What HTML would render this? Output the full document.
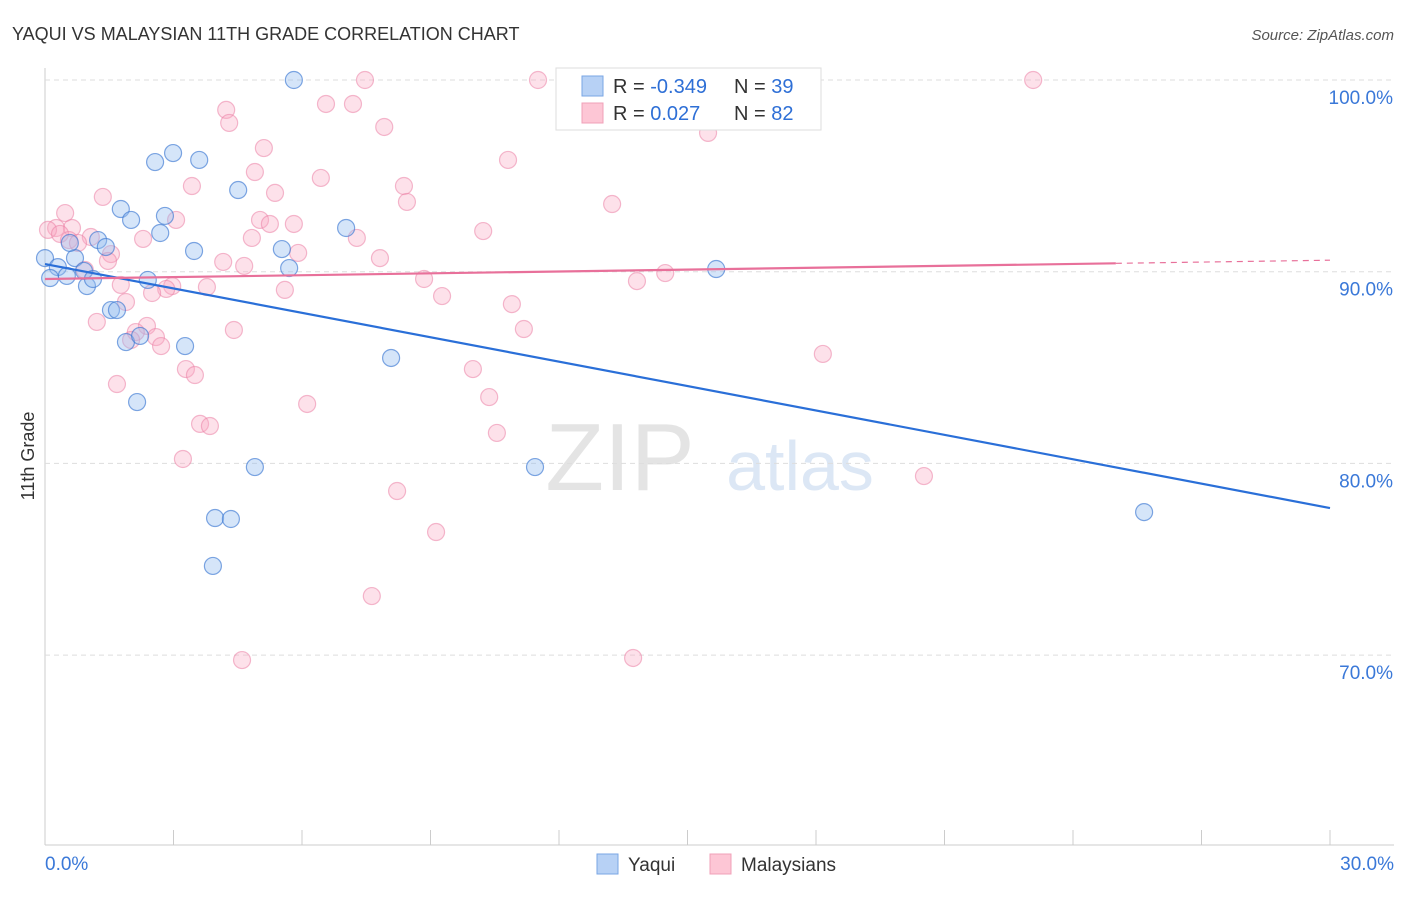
<!DOCTYPE html>
<html><head><meta charset="utf-8"><style>
body{margin:0;background:#fff;font-family:"Liberation Sans",sans-serif}
svg text{font-family:"Liberation Sans",sans-serif}
</style></head><body>
<svg id="chart" width="1406" height="892" xmlns="http://www.w3.org/2000/svg">
<text x="12" y="40" font-size="18" fill="#333">YAQUI VS MALAYSIAN 11TH GRADE CORRELATION CHART</text>
<text x="1394" y="40" font-size="15" fill="#555" font-style="italic" text-anchor="end">Source: ZipAtlas.com</text>
<text x="620" y="490" font-size="96" fill="#e4e4e4" font-family="Liberation Serif" text-anchor="middle">ZIP</text>
<text x="800" y="490" font-size="70" fill="#dce7f5" text-anchor="middle">atlas</text>
<text x="34" y="456" font-size="18" fill="#333" transform="rotate(-90 34 456)" text-anchor="middle">11th Grade</text>
<g id="grid"></g><g id="pts"></g><g id="trends"></g>
<g>
<rect x="556" y="68" width="265" height="62" fill="#fff" stroke="#ddd"/>
<rect x="582" y="76" width="21" height="20" fill="#b7d1f5" stroke="#7aa6e4"/>
<rect x="582" y="103" width="21" height="20" fill="#fdc6d5" stroke="#f0a0b8"/>
<text x="613" y="93" font-size="20" fill="#333">R = <tspan fill="#2e6fd6">-0.349</tspan></text>
<text x="734" y="93" font-size="20" fill="#333">N = <tspan fill="#2e6fd6">39</tspan></text>
<text x="613" y="120" font-size="20" fill="#333">R = <tspan fill="#2e6fd6"> 0.027</tspan></text>
<text x="734" y="120" font-size="20" fill="#333">N = <tspan fill="#2e6fd6">82</tspan></text>
</g>
<g>
<rect x="597" y="854" width="21" height="20" fill="#b7d1f5" stroke="#7aa6e4"/>
<text x="628" y="871" font-size="19" fill="#333">Yaqui</text>
<rect x="710" y="854" width="21" height="20" fill="#fdc6d5" stroke="#f0a0b8"/>
<text x="741" y="871" font-size="19" fill="#333">Malaysians</text>
</g>
</svg>
<script>
const yTicks=[100,90,80,70];
const yTickLabels=["100.0%","90.0%","80.0%","70.0%"];
const xTickLabels=["0.0%","30.0%"];
const yaquiX=[5.81,2.99,2.57,3.60,4.51,1.77,2.80,2.01,2.69,7.03,1.24,3.48,5.53,1.42,0.70,0.0,0.30,0.12,0.51,0.91,0.98,1.12,2.40,5.70,15.67,1.54,1.68,1.89,2.22,3.27,8.08,2.15,4.90,11.44,3.97,4.34,3.92,25.66,0.58];
const yaquiY=[100,96.19,95.72,95.83,94.26,93.27,92.91,92.70,92.02,92.28,91.65,91.08,91.18,91.29,90.71,90.71,90.24,89.67,89.78,90.04,89.25,89.62,89.57,90.19,90.14,88.0,88.0,86.33,86.65,86.12,85.5,83.2,79.81,79.81,77.15,77.10,74.65,77.46,91.5];
const malX=[7.47,11.51,23.07,6.56,7.19,4.23,4.30,7.92,5.11,10.81,6.44,3.43,4.90,8.38,5.37,1.35,8.45,13.24,0.47,3.06,5.02,5.81,5.25,10.23,0.26,0.07,0.63,0.35,1.07,2.29,4.83,7.28,0.56,0.77,5.91,1.54,7.82,1.47,4.16,4.65,0.93,14.48,8.85,13.82,1.77,3.78,2.97,2.83,2.50,5.60,9.27,10.90,1.21,2.38,4.41,11.18,2.12,1.89,2.59,2.01,2.71,18.16,3.29,3.50,9.99,1.68,10.37,6.12,3.62,3.85,10.55,3.22,20.52,8.22,9.13,7.63,4.60,13.73,15.48,14.13];
const malY=[100,100,100,98.75,98.75,98.44,97.76,97.55,96.45,95.83,94.89,94.47,95.20,94.47,94.11,93.90,93.64,93.53,93.06,92.70,92.70,92.49,92.49,92.12,92.28,92.18,92.28,91.97,91.81,91.71,91.76,91.76,91.65,91.50,90.98,90.92,90.71,90.56,90.51,90.30,90.09,89.93,89.62,89.51,89.31,89.20,89.25,89.10,88.89,89.05,88.73,88.31,87.38,87.17,86.96,87.01,86.85,88.42,86.59,86.44,86.12,85.71,84.92,84.61,84.92,84.14,83.46,83.10,82.06,81.95,81.59,80.23,79.34,78.56,76.42,73.08,69.74,69.85,97.24,98.28];
const yaquiTrend=[90.4,77.67];
const malTrend=[89.62,90.6];
const X0=45,X1=1330;
function sx(v){return X0+(v/30)*(X1-X0);}
function sy(v){return 80+(100-v)*19.17;}
const NS="http://www.w3.org/2000/svg";
function mk(tag,attrs,parent){const e=document.createElementNS(NS,tag);for(const k in attrs)e.setAttribute(k,attrs[k]);parent.appendChild(e);return e;}
const grid=document.getElementById('grid');
let e=mk('line',{x1:X0,y1:68,x2:X0,y2:845,stroke:'#ccc'},grid);


e=mk('line',{x1:X0,y1:845,x2:1394,y2:845,stroke:'#ccc'},grid);


yTicks.forEach((t,i)=>{
 const g=mk('line',{x1:X0,y1:sy(t),x2:1394,y2:sy(t),stroke:'#ddd','stroke-dasharray':'5,4'},grid);
 
 
 const l=mk('text',{x:1393,y:sy(t)+24,'font-size':19,fill:'#3a78d8','text-anchor':'end'},grid);
 l.textContent=yTickLabels[i];
 
 
});
for(let i=1;i<=10;i++){
 const t=mk('line',{x1:sx(i*3),y1:830,x2:sx(i*3),y2:845,stroke:'#ccc'},grid);
 
 
}
[[0,'start',45],[30,'end',1394]].forEach((d,i)=>{
 const l=mk('text',{x:d[2],y:870,'font-size':19,fill:'#3a78d8','text-anchor':d[1]},grid);
 l.textContent=xTickLabels[i];
 
 
});
const pts=document.getElementById('pts');
malX.forEach((x,i)=>{
 const c=mk('circle',{cx:sx(x),cy:sy(malY[i]),r:8.5,fill:'rgba(248,170,195,0.35)',stroke:'rgba(235,130,165,0.55)','stroke-width':1.2},pts);
 
 
});
yaquiX.forEach((x,i)=>{
 const c=mk('circle',{cx:sx(x),cy:sy(yaquiY[i]),r:8.5,fill:'rgba(150,190,240,0.4)',stroke:'rgba(60,120,210,0.65)','stroke-width':1.2},pts);
 
 
});
const tr=document.getElementById('trends');
e=mk('line',{x1:sx(0),y1:sy(yaquiTrend[0]),x2:sx(30),y2:sy(yaquiTrend[1]),stroke:'#2a6fd8','stroke-width':2.2},tr);


const mAt=x=>malTrend[0]+(malTrend[1]-malTrend[0])*x/30;
e=mk('line',{x1:sx(0),y1:sy(mAt(0)),x2:sx(25),y2:sy(mAt(25)),stroke:'#e8709a','stroke-width':2.2},tr);


e=mk('line',{x1:sx(25),y1:sy(mAt(25)),x2:sx(30),y2:sy(mAt(30)),stroke:'#e8709a','stroke-width':1.2,'stroke-dasharray':'6,5'},tr);


</script>
</body></html>
